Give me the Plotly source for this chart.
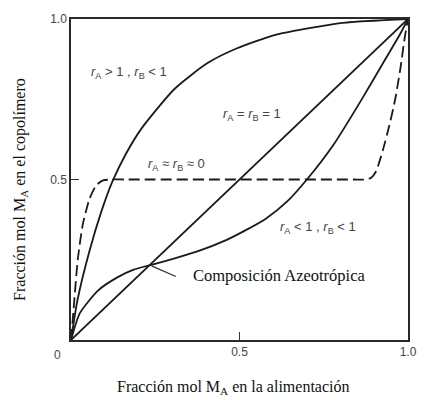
import plotly.graph_objects as go

# ---- data ----
# r_A > 1, r_B < 1
f_up = [0, 0.019, 0.055, 0.09, 0.123, 0.162, 0.21, 0.307, 0.404, 0.491, 0.612, 0.806, 1.0]
F_up = [0, 0.123, 0.278, 0.40, 0.494, 0.578, 0.66, 0.782, 0.862, 0.908, 0.952, 0.988, 1.0]

# r_A = r_B = 1
f_id = [0, 1]
F_id = [0, 1]

# r_A < 1, r_B < 1 (azeotropic)
f_az = [0, 0.026, 0.08, 0.1375, 0.186, 0.23, 0.30, 0.375, 0.462, 0.52, 0.578, 0.64, 0.70, 0.78, 0.86, 0.93, 0.975, 1.0]
F_az = [0, 0.083, 0.154, 0.195, 0.219, 0.232, 0.252, 0.276, 0.312, 0.343, 0.378, 0.43, 0.50, 0.61, 0.745, 0.87, 0.95, 1.0]

# r_A ~ r_B ~ 0 (alternating)
f_alt = [0, 0.008, 0.02, 0.035, 0.055, 0.075, 0.095, 0.12, 0.16, 0.5, 0.84, 0.87, 0.89, 0.905, 0.925, 0.945, 0.962, 0.978, 0.99, 1.0]
F_alt = [0, 0.10, 0.25, 0.36, 0.44, 0.482, 0.497, 0.5, 0.5, 0.5, 0.5, 0.5, 0.505, 0.525, 0.59, 0.67, 0.75, 0.85, 0.94, 1.0]

# azeotrope pointer
ptr_x = [0.239, 0.311]
ptr_y = [0.231, 0.198]

tick_vals = [0, 0.5, 1.0]
tick_text = ["", "0.5", "1.0"]

LINE = "#1a1a1a"
fig = go.Figure()
for fx, fy, dash in [(f_up, F_up, "solid"), (f_id, F_id, "solid"),
                     (f_az, F_az, "solid"), (f_alt, F_alt, "11px,5px")]:
    fig.add_trace(go.Scatter(x=fx, y=fy, mode="lines",
                             line=dict(color=LINE, width=1.8, dash=dash,
                                       shape="spline", smoothing=0.6),
                             cliponaxis=False, hoverinfo="skip", showlegend=False))
fig.add_trace(go.Scatter(x=ptr_x, y=ptr_y, mode="lines",
                         line=dict(color="#333", width=1.2),
                         hoverinfo="skip", showlegend=False))

sans = dict(family="Liberation Sans, Arial", size=13, color="#444")
serif = dict(family="Liberation Serif, Times New Roman", size=16, color="#111")

labels = [
    (0.172, 0.833, "<i>r</i><sub>A</sub> > 1 , <i>r</i><sub>B</sub> < 1"),
    (0.538, 0.704, "<i>r</i><sub>A</sub> = <i>r</i><sub>B</sub> = 1"),
    (0.314, 0.546, "<i>r</i><sub>A</sub> ≈ <i>r</i><sub>B</sub> ≈ 0"),
    (0.733, 0.349, "<i>r</i><sub>A</sub> < 1 , <i>r</i><sub>B</sub> < 1"),
]
for x, y, t in labels:
    fig.add_annotation(x=x, y=y, xref="x", yref="y", text=t, showarrow=False,
                       font=sans, xanchor="center", yanchor="middle")
fig.add_annotation(x=0.355, y=0.2, xref="x", yref="y", text="Composición Azeotrópica",
                   showarrow=False, font=dict(serif, size=16.5), xanchor="left", yanchor="middle")
fig.add_annotation(x=-0.039, y=-0.046, xref="paper", yref="paper", text="0",
                   showarrow=False, font=dict(family="Liberation Sans, Arial", size=12, color="#444"),
                   xanchor="center", yanchor="middle")
# axis titles
fig.add_annotation(x=(236.5 - 71) / 344, y=-(388 - 340) / 324, xref="paper", yref="paper",
                   text="Fracción mol M<sub>A</sub> en la alimentación", showarrow=False,
                   font=serif, xanchor="center", yanchor="middle")
fig.add_annotation(x=(20 - 71) / 344, y=(340 - 188.5) / 324, xref="paper", yref="paper",
                   text="Fracción mol M<sub>A</sub> en el copolímero", showarrow=False,
                   font=serif, textangle=-90, xanchor="center", yanchor="middle")

axis_common = dict(range=[0, 1], tickvals=tick_vals, ticktext=tick_text,
                   ticks="inside", ticklen=8, tickcolor="#333", tickwidth=1.2,
                   showgrid=False, zeroline=False, showline=True, linecolor="#2a2a2a",
                   linewidth=1.5, mirror=True,
                   tickfont=dict(family="Liberation Sans, Arial", size=12, color="#444"))
fig.update_xaxes(**axis_common)
fig.update_yaxes(**axis_common)

fig.update_layout(width=429, height=400, margin=dict(l=71, r=14, t=16, b=60),
                  plot_bgcolor="white", paper_bgcolor="white")

fig.write_html("out.html")
